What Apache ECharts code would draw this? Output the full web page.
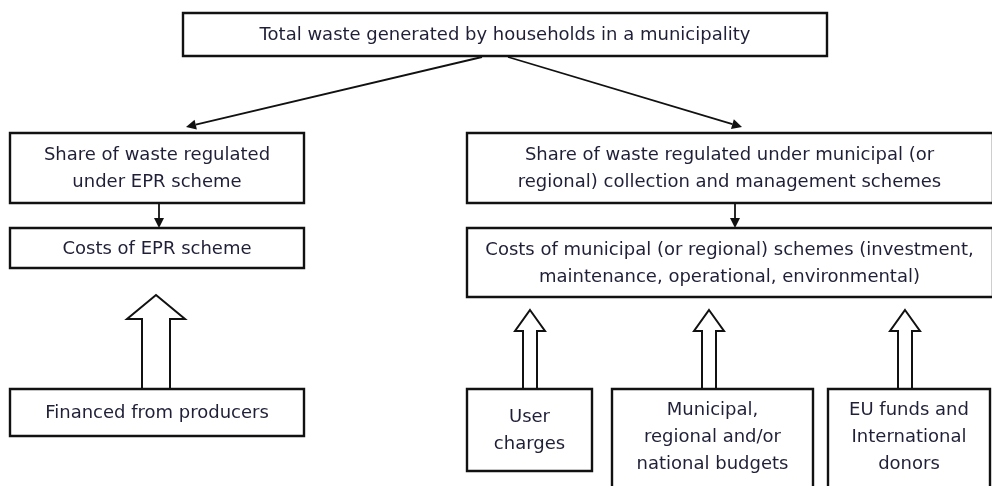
<!DOCTYPE html>
<html>
<head>
<meta charset="utf-8">
<script src="https://cdn.jsdelivr.net/npm/echarts@6/dist/echarts.min.js"></script>
<style>
  html, body { margin: 0; padding: 0; background: #fff; }
  #main { width: 992px; height: 486px; }
</style>
</head>
<body>
<div id="main"></div>
<script>
// boxes of the flow diagram (diagram units = px of the 992x486 sheet)
var boxText = [
  'Total waste generated by households in a municipality',
  'Share of waste regulated\nunder EPR scheme',
  'Costs of EPR scheme',
  'Financed from producers',
  'Share of waste regulated under municipal (or\nregional) collection and management schemes',
  'Costs of municipal (or regional) schemes (investment,\nmaintenance, operational, environmental)',
  'User\ncharges',
  'Municipal,\nregional and/or\nnational budgets',
  'EU funds and\nInternational\ndonors'
];
var boxLeft   = [183, 10, 10, 10, 467, 467, 467, 612, 828];
var boxRight  = [827, 304, 304, 304, 993, 993, 592, 813, 990];
var boxTop    = [13, 133, 228, 389, 133, 228, 389, 389, 389];
var boxBottom = [56, 203, 268, 436, 203, 297, 471, 490, 490];

// thin arrows: from -> to
var arrowFrom = [[482, 57], [508, 57], [159, 203], [735, 203]];
var arrowTo   = [[186, 127], [742, 127], [159, 228], [735, 228]];

// hollow block arrows (funding flows): centre x, tip y, foot y
var blockX    = [156, 530, 709, 905];
var blockTip  = [295, 310, 310, 310];
var blockFoot = [389, 389, 389, 389];
var blockBig  = [true, false, false, false];

var myChart = echarts.init(document.getElementById('main'));

var ink = '#111';
var textInk = '#1f1f38';

var boxData = boxText.map(function (t, i) {
  return [boxLeft[i], boxTop[i], boxRight[i], boxBottom[i], i];
});
var arrowData = arrowFrom.map(function (p, i) {
  return [p[0], p[1], arrowTo[i][0], arrowTo[i][1]];
});
var blockData = blockX.map(function (x, i) {
  return [x, blockTip[i], blockFoot[i], blockBig[i] ? 1 : 0];
});

var option = {
  animation: false,
  grid: { left: 0, right: 0, top: 0, bottom: 0 },
  xAxis: { type: 'value', min: 0, max: 992, show: false },
  yAxis: { type: 'value', min: 0, max: 486, inverse: true, show: false },
  series: [
    {
      type: 'custom',
      name: 'arrows',
      data: arrowData,
      renderItem: function (params, api) {
        var a = api.coord([api.value(0), api.value(1)]);
        var b = api.coord([api.value(2), api.value(3)]);
        var dx = b[0] - a[0], dy = b[1] - a[1];
        var len = Math.sqrt(dx * dx + dy * dy);
        var ux = dx / len, uy = dy / len;
        var hl = 10, hw = 5;
        var bx = b[0] - ux * hl, by = b[1] - uy * hl;
        return {
          type: 'group',
          children: [
            { type: 'line', shape: { x1: a[0], y1: a[1], x2: bx, y2: by },
              style: { stroke: ink, lineWidth: 1.8 } },
            { type: 'polygon',
              shape: { points: [[b[0], b[1]], [bx - uy * hw, by + ux * hw], [bx + uy * hw, by - ux * hw]] },
              style: { fill: ink } }
          ]
        };
      }
    },
    {
      type: 'custom',
      name: 'blocks',
      data: blockData,
      renderItem: function (params, api) {
        var tip = api.coord([api.value(0), api.value(1)]);
        var foot = api.coord([api.value(0), api.value(2)]);
        var big = api.value(3) === 1;
        var headH = big ? 24 : 21;
        var headW = big ? 29 : 15;
        var shaftW = big ? 14 : 7;
        var cx = tip[0];
        var hb = tip[1] + headH;
        return {
          type: 'polygon',
          shape: { points: [
            [cx, tip[1]], [cx + headW, hb], [cx + shaftW, hb], [cx + shaftW, foot[1]],
            [cx - shaftW, foot[1]], [cx - shaftW, hb], [cx - headW, hb]
          ] },
          style: { fill: '#fff', stroke: ink, lineWidth: 2 }
        };
      }
    },
    {
      type: 'custom',
      name: 'boxes',
      data: boxData,
      renderItem: function (params, api) {
        var p0 = api.coord([api.value(0), api.value(1)]);
        var p1 = api.coord([api.value(2), api.value(3)]);
        var idx = api.value(4);
        var h = p1[1] - p0[1];
        var cy = (p0[1] + Math.min(p1[1], 484)) / 2;
        return {
          type: 'group',
          children: [
            { type: 'rect',
              shape: { x: p0[0], y: p0[1], width: p1[0] - p0[0], height: h },
              style: { fill: '#fff', stroke: ink, lineWidth: 2.4 } },
            { type: 'text',
              style: {
                text: boxText[idx],
                x: (p0[0] + Math.min(p1[0], 992)) / 2,
                y: cy + 1,
                align: 'center',
                verticalAlign: 'middle',
                fontFamily: 'DejaVu Sans',
                fontSize: 18,
                lineHeight: 27,
                fill: textInk
              } }
          ]
        };
      }
    }
  ]
};

myChart.setOption(option);
</script>
</body>
</html>
